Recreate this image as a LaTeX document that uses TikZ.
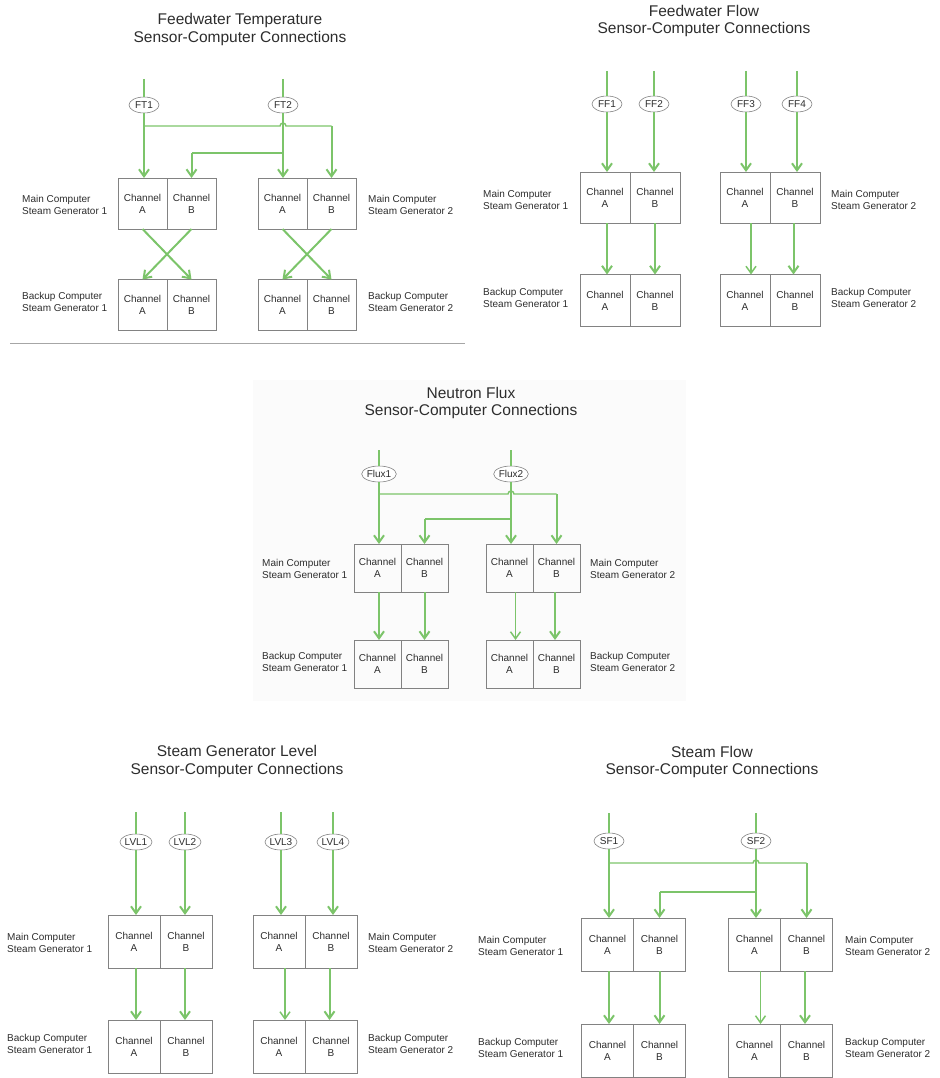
\documentclass[tikz,border=0pt]{standalone}
\usepackage{fontspec}
\setmainfont{Liberation Sans}
\usetikzlibrary{positioning,arrows.meta,calc,shapes.geometric}
\definecolor{wiregreen}{RGB}{124,196,106}
\definecolor{boxgray}{RGB}{130,130,130}
\definecolor{txtgray}{RGB}{45,45,45}
\definecolor{panelbg}{RGB}{251,251,251}

\begin{document}
\begin{tikzpicture}[x=1pt, y=-1pt,
    node distance=0pt,
    cell/.style={draw=boxgray, line width=0.8pt, minimum width=49pt, minimum height=51pt, inner sep=0pt, outer sep=0pt, align=center, text=txtgray, font=\fontsize{10}{12}\selectfont},
    sensor/.style={ellipse, draw=boxgray, fill=white, line width=0.6pt, minimum width=30pt, minimum height=16pt, inner sep=0pt, text=txtgray, font=\fontsize{10}{12}\selectfont},
    lbl/.style={anchor=west, align=left, inner sep=0pt, text=txtgray, font=\fontsize{10}{12}\selectfont},
    ttl/.style={align=center, inner sep=0pt, text=txtgray, font=\fontsize{15.5}{17.5}\selectfont},
    wire/.style={draw=wiregreen, line width=2pt},
    branch/.style={draw=wiregreen, line width=1.4pt},
    feed/.style={wire, -{Straight Barb[length=7pt,width=10pt]}},
    thinfeed/.style={draw=wiregreen, line width=1.5pt, -{Straight Barb[length=7pt,width=10pt]}},
]
\useasboundingbox (0,0) rectangle (939,1078);
\fill[panelbg] (253,380) rectangle (686,701);
\draw[black!35, line width=0.8pt] (10,343) -- (465,343);

% Feedwater Temperature
\node[ttl] (ttitle) at (240,29.5) {Feedwater Temperature\\Sensor-Computer Connections};
\node[sensor] (ft1) at (144,105) {FT1};
\node[sensor] (ft2) at (283,105) {FT2};
\coordinate (ft1in) at (144,79);
\coordinate (ft2in) at (283,79);
\node[cell] (tm1a) at (142.5,203.5) {Channel\\A};
\node[cell, right=of tm1a] (tm1b) {Channel\\B};
\node[cell] (tm2a) at (282.5,203.5) {Channel\\A};
\node[cell, right=of tm2a] (tm2b) {Channel\\B};
\node[cell] (tb1a) at (142.5,305) {Channel\\A};
\node[cell, right=of tb1a] (tb1b) {Channel\\B};
\node[cell] (tb2a) at (282.5,305) {Channel\\A};
\node[cell, right=of tb2a] (tb2b) {Channel\\B};
\node[lbl] (tml) at (22,205) {Main Computer\\Steam Generator 1};
\node[lbl] (tbl) at (22,302) {Backup Computer\\Steam Generator 1};
\node[lbl] (tmr) at (368,205) {Main Computer\\Steam Generator 2};
\node[lbl] (tbr) at (368,302) {Backup Computer\\Steam Generator 2};
\coordinate (ft1j) at (144,126);
\coordinate (ft2j) at (283,153);
\draw[wire] (ft1in) -- (ft1.north);
\draw[wire] (ft2in) -- (ft2.north);
\draw[feed] (ft1.south) -- (ft1 |- tm1a.north);
\draw[feed] (ft2.south) -- (ft2 |- tm2a.north);
\draw[branch] (ft1j) -- ($(ft2 |- ft1j)+(-3,0)$) arc[start angle=180, end angle=360, radius=3] -- (tm2b |- ft1j);
\draw[feed] (tm2b |- ft1j) -- (tm2b.north);
\draw[branch] (ft2j) -- (tm1b |- ft2j);
\draw[feed] (tm1b |- ft2j) -- (tm1b.north);
\draw[feed] (tm1a.south) -- (tb1b.north);
\draw[feed] (tm1b.south) -- (tb1a.north);
\draw[feed] (tm2a.south) -- (tb2b.north);
\draw[feed] (tm2b.south) -- (tb2a.north);

% Feedwater Flow
\node[ttl] (ftitle) at (704,21) {Feedwater Flow\\Sensor-Computer Connections};
\node[sensor] (ff1) at (607,104) {FF1};
\node[sensor] (ff2) at (654,104) {FF2};
\node[sensor] (ff3) at (746,104) {FF3};
\node[sensor] (ff4) at (797,104) {FF4};
\node[cell, minimum width=50pt] (fm1a) at (605,197.5) {Channel\\A};
\node[cell, minimum width=50pt, right=of fm1a] (fm1b) {Channel\\B};
\node[cell, minimum width=50pt] (fm2a) at (745,197.5) {Channel\\A};
\node[cell, minimum width=50pt, right=of fm2a] (fm2b) {Channel\\B};
\node[cell, minimum width=50pt, minimum height=52pt] (fb1a) at (605,300.5) {Channel\\A};
\node[cell, minimum width=50pt, minimum height=52pt, right=of fb1a] (fb1b) {Channel\\B};
\node[cell, minimum width=50pt, minimum height=52pt] (fb2a) at (745,300.5) {Channel\\A};
\node[cell, minimum width=50pt, minimum height=52pt, right=of fb2a] (fb2b) {Channel\\B};
\node[lbl] (fml) at (483,199.5) {Main Computer\\Steam Generator 1};
\node[lbl] (fbl) at (483,298) {Backup Computer\\Steam Generator 1};
\node[lbl] (fmr) at (831,199.5) {Main Computer\\Steam Generator 2};
\node[lbl] (fbr) at (831,298) {Backup Computer\\Steam Generator 2};
\foreach \s in {ff1,ff2,ff3,ff4}
  \draw[wire] ($(\s)+(0,-33)$) -- (\s.north);
\draw[feed] (ff1.south) -- (ff1 |- fm1a.north);
\draw[feed] (ff2.south) -- (ff2 |- fm1b.north);
\draw[feed] (ff3.south) -- (ff3 |- fm2a.north);
\draw[feed] (ff4.south) -- (ff4 |- fm2b.north);
\draw[feed] (ff1 |- fm1a.south) -- (ff1 |- fb1a.north);
\draw[feed] (fm1b.south) -- (fb1b.north);
\draw[thinfeed] ([xshift=6pt]fm2a.south) -- ([xshift=6pt]fb2a.north);
\draw[feed] ([xshift=-1.5pt]fm2b.south) -- ([xshift=-1.5pt]fb2b.north);

% Neutron Flux
\node[ttl] (ntitle) at (471,403) {Neutron Flux\\Sensor-Computer Connections};
\node[sensor] (nf1) at (379,474) {Flux1};
\node[sensor] (nf2) at (511,474) {Flux2};
\coordinate (nf1in) at (379,450);
\coordinate (nf2in) at (511,450);
\node[cell, minimum width=47pt, minimum height=48pt] (nm1a) at (377.5,568) {Channel\\A};
\node[cell, minimum width=47pt, minimum height=48pt, right=of nm1a] (nm1b) {Channel\\B};
\node[cell, minimum width=47pt, minimum height=48pt] (nm2a) at (509.5,568) {Channel\\A};
\node[cell, minimum width=47pt, minimum height=48pt, right=of nm2a] (nm2b) {Channel\\B};
\node[cell, minimum width=47pt, minimum height=48pt] (nb1a) at (377.5,664) {Channel\\A};
\node[cell, minimum width=47pt, minimum height=48pt, right=of nb1a] (nb1b) {Channel\\B};
\node[cell, minimum width=47pt, minimum height=48pt] (nb2a) at (509.5,664) {Channel\\A};
\node[cell, minimum width=47pt, minimum height=48pt, right=of nb2a] (nb2b) {Channel\\B};
\node[lbl] (nml) at (262,569) {Main Computer\\Steam Generator 1};
\node[lbl] (nbl) at (262,661.5) {Backup Computer\\Steam Generator 1};
\node[lbl] (nmr) at (590,569) {Main Computer\\Steam Generator 2};
\node[lbl] (nbr) at (590,661.5) {Backup Computer\\Steam Generator 2};
\coordinate (nf1j) at (379,494);
\coordinate (nf2j) at (511,519);
\draw[wire] (nf1in) -- (nf1.north);
\draw[wire] (nf2in) -- (nf2.north);
\draw[feed] (nf1.south) -- (nf1 |- nm1a.north);
\draw[feed] (nf2.south) -- (nf2 |- nm2a.north);
\draw[branch] (nf1j) -- ($(nf2 |- nf1j)+(-3,0)$) arc[start angle=180, end angle=360, radius=3] -- (nm2b |- nf1j);
\draw[feed] (nm2b |- nf1j) -- (nm2b.north);
\draw[branch] (nf2j) -- (nm1b |- nf2j);
\draw[feed] (nm1b |- nf2j) -- (nm1b.north);
\draw[feed] (nf1 |- nm1a.south) -- (nf1 |- nb1a.north);
\draw[feed] (nm1b.south) -- (nb1b.north);
\draw[thinfeed] ([xshift=6pt]nm2a.south) -- ([xshift=6pt]nb2a.north);
\draw[feed] ([xshift=-1.5pt]nm2b.south) -- ([xshift=-1.5pt]nb2b.north);

% Steam Generator Level
\node[ttl] (ltitle) at (237,761.5) {Steam Generator Level\\Sensor-Computer Connections};
\node[sensor] (lvl1) at (136,842) {LVL1};
\node[sensor] (lvl2) at (185,842) {LVL2};
\node[sensor] (lvl3) at (281,842) {LVL3};
\node[sensor] (lvl4) at (333,842) {LVL4};
\node[cell, minimum width=52pt, minimum height=53pt] (lm1a) at (134,941.5) {Channel\\A};
\node[cell, minimum width=52pt, minimum height=53pt, right=of lm1a] (lm1b) {Channel\\B};
\node[cell, minimum width=52pt, minimum height=53pt] (lm2a) at (279,941.5) {Channel\\A};
\node[cell, minimum width=52pt, minimum height=53pt, right=of lm2a] (lm2b) {Channel\\B};
\node[cell, minimum width=52pt, minimum height=53pt] (lb1a) at (134,1046.5) {Channel\\A};
\node[cell, minimum width=52pt, minimum height=53pt, right=of lb1a] (lb1b) {Channel\\B};
\node[cell, minimum width=52pt, minimum height=53pt] (lb2a) at (279,1046.5) {Channel\\A};
\node[cell, minimum width=52pt, minimum height=53pt, right=of lb2a] (lb2b) {Channel\\B};
\node[lbl] (lml) at (7,943) {Main Computer\\Steam Generator 1};
\node[lbl] (lbl) at (7,1044) {Backup Computer\\Steam Generator 1};
\node[lbl] (lmr) at (368,943) {Main Computer\\Steam Generator 2};
\node[lbl] (lbr) at (368,1044) {Backup Computer\\Steam Generator 2};
\foreach \s in {lvl1,lvl2,lvl3,lvl4}
  \draw[wire] ($(\s)+(0,-30)$) -- (\s.north);
\draw[feed] (lvl1.south) -- (lvl1 |- lm1a.north);
\draw[feed] (lvl2.south) -- (lvl2 |- lm1b.north);
\draw[feed] (lvl3.south) -- (lvl3 |- lm2a.north);
\draw[feed] (lvl4.south) -- (lvl4 |- lm2b.north);
\draw[feed] (lvl1 |- lm1a.south) -- (lvl1 |- lb1a.north);
\draw[feed] (lvl2 |- lm1b.south) -- (lvl2 |- lb1b.north);
\draw[thinfeed] ([xshift=6pt]lm2a.south) -- ([xshift=6pt]lb2a.north);
\draw[feed] ([xshift=-1.5pt]lm2b.south) -- ([xshift=-1.5pt]lb2b.north);

% Steam Flow
\node[ttl] (stitle) at (712,762) {Steam Flow\\Sensor-Computer Connections};
\node[sensor] (sf1) at (609,841) {SF1};
\node[sensor] (sf2) at (756,841) {SF2};
\coordinate (sf1in) at (609,813);
\coordinate (sf2in) at (756,813);
\node[cell, minimum width=52pt, minimum height=53pt] (sm1a) at (607.5,944.5) {Channel\\A};
\node[cell, minimum width=52pt, minimum height=53pt, right=of sm1a] (sm1b) {Channel\\B};
\node[cell, minimum width=52pt, minimum height=53pt] (sm2a) at (754.5,944.5) {Channel\\A};
\node[cell, minimum width=52pt, minimum height=53pt, right=of sm2a] (sm2b) {Channel\\B};
\node[cell, minimum width=52pt, minimum height=53pt] (sb1a) at (607.5,1050.5) {Channel\\A};
\node[cell, minimum width=52pt, minimum height=53pt, right=of sb1a] (sb1b) {Channel\\B};
\node[cell, minimum width=52pt, minimum height=53pt] (sb2a) at (754.5,1050.5) {Channel\\A};
\node[cell, minimum width=52pt, minimum height=53pt, right=of sb2a] (sb2b) {Channel\\B};
\node[lbl] (sml) at (478,946) {Main Computer\\Steam Generator 1};
\node[lbl] (sbl) at (478,1048) {Backup Computer\\Steam Generator 1};
\node[lbl] (smr) at (845,946) {Main Computer\\Steam Generator 2};
\node[lbl] (sbr) at (845,1048) {Backup Computer\\Steam Generator 2};
\coordinate (sf1j) at (609,863);
\coordinate (sf2j) at (756,892);
\draw[wire] (sf1in) -- (sf1.north);
\draw[wire] (sf2in) -- (sf2.north);
\draw[feed] (sf1.south) -- (sf1 |- sm1a.north);
\draw[feed] (sf2.south) -- (sf2 |- sm2a.north);
\draw[branch] (sf1j) -- ($(sf2 |- sf1j)+(-3,0)$) arc[start angle=180, end angle=360, radius=3] -- (sm2b |- sf1j);
\draw[feed] (sm2b |- sf1j) -- (sm2b.north);
\draw[branch] (sf2j) -- (sm1b |- sf2j);
\draw[feed] (sm1b |- sf2j) -- (sm1b.north);
\draw[feed] (sf1 |- sm1a.south) -- (sf1 |- sb1a.north);
\draw[feed] (sm1b.south) -- (sb1b.north);
\draw[thinfeed] ([xshift=6pt]sm2a.south) -- ([xshift=6pt]sb2a.north);
\draw[feed] ([xshift=-1.5pt]sm2b.south) -- ([xshift=-1.5pt]sb2b.north);
\end{tikzpicture}
\end{document}
